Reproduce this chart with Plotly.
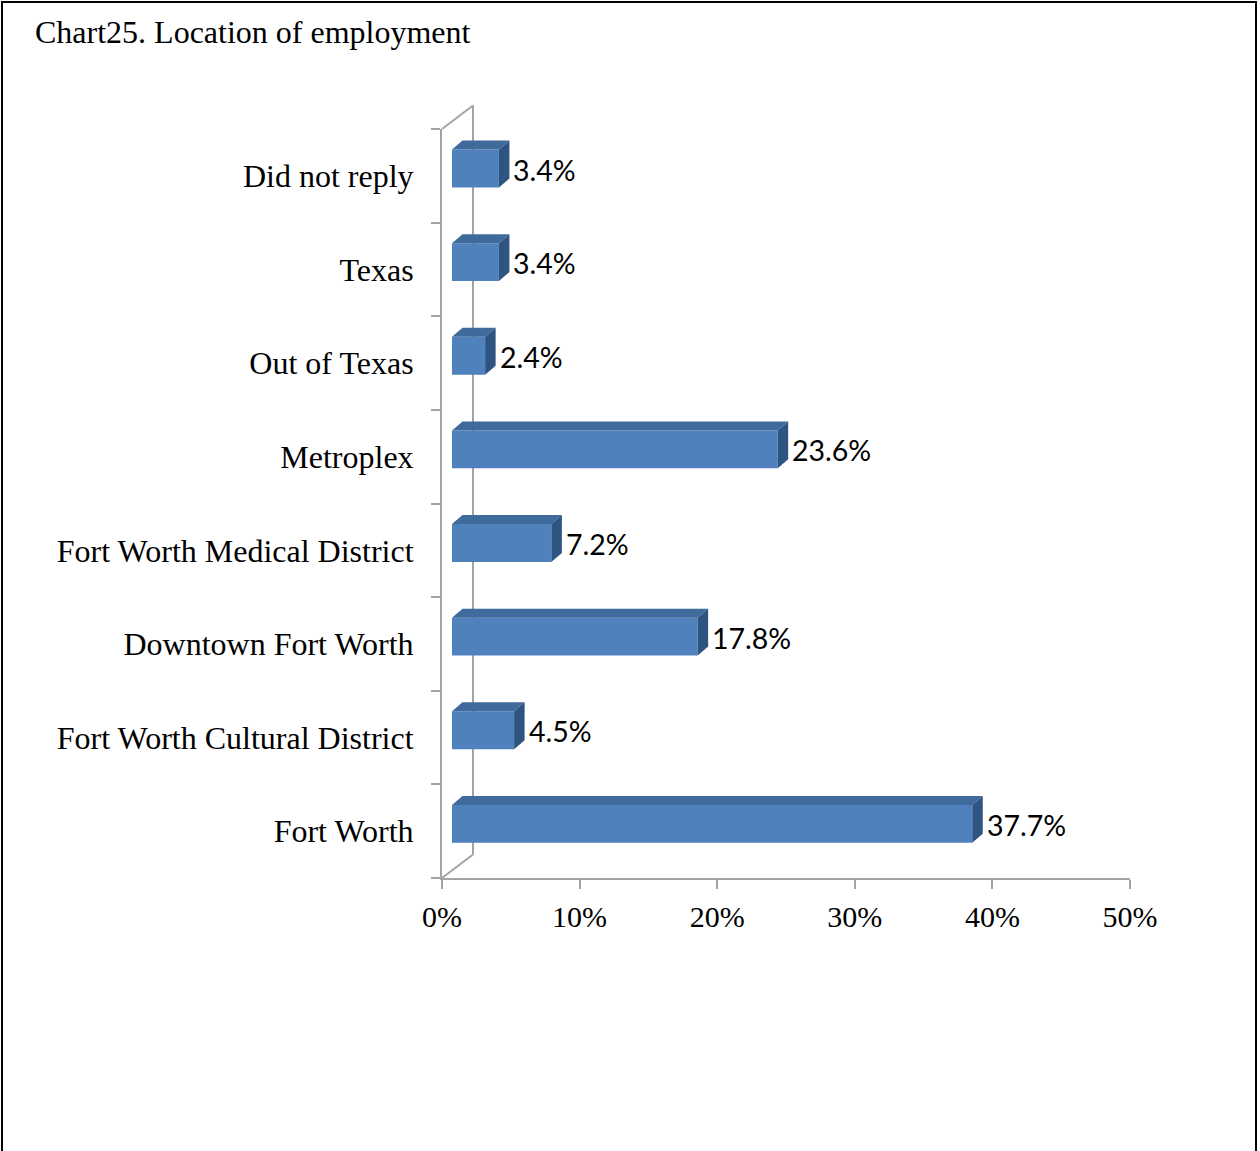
import plotly.graph_objects as go

# ---- data (bottom to top) ----
categories = ["Fort Worth", "Fort Worth Cultural District", "Downtown Fort Worth",
              "Fort Worth Medical District", "Metroplex", "Out of Texas", "Texas",
              "Did not reply"]
values = [37.7, 4.5, 17.8, 7.2, 23.6, 2.4, 3.4, 3.4]
x_ticks = [0, 10, 20, 30, 40, 50]
x_tick_labels = ["0%", "10%", "20%", "30%", "40%", "50%"]
title_text = "Chart25. Location of employment"

# ---- layout geometry ----
W, H = 1260, 1151
L, R, T, B = 442, 130, 129, 273
pw, ph = W - L - R, H - T - B
ncat = len(categories)
px_per_cat = ph / ncat

# bar axis offsets (3D projection of bars sits slightly behind the front plane)
bar_x_shift_px = 10.0
bar_scale = 13.8
x2_range = [-bar_x_shift_px / bar_scale, (pw - bar_x_shift_px) / bar_scale]
bar_y_shift = 7.3 / px_per_cat
y2_range = [-0.5 - bar_y_shift, ncat - 0.5 - bar_y_shift]
bar_w = 0.405
dx = 10.5 / bar_scale          # depth offset in x2 units
dy = 9.0 / px_per_cat          # depth offset in y units

FRONT = "#4F81BD"
TOP = "#3F6A9C"
SIDE = "#2E5482"
GRID = "#A3A3A3"

fig = go.Figure()
# invisible trace on the front-plane axes so the labelled axes are drawn
fig.add_trace(go.Scatter(
    x=[0, 50], y=[-0.5, ncat - 0.5], mode="markers", marker=dict(opacity=0),
    xaxis="x", yaxis="y", hoverinfo="skip", showlegend=False,
))
fig.add_trace(go.Bar(
    x=values, y=list(range(ncat)), orientation="h", width=bar_w,
    marker=dict(color=FRONT, line=dict(width=0)),
    xaxis="x2", yaxis="y2", hoverinfo="x+y", showlegend=False,
))

shapes = []
annotations = []

# back wall / floor (3D frame) in paper units so the part above the plot area is not clipped
wall_dx = 31 / pw
wall_dy = 23.5 / ph
shapes += [
    dict(type="line", xref="paper", yref="paper", x0=0, y0=1, x1=wall_dx, y1=1 + wall_dy,
         line=dict(color=GRID, width=2), layer="below"),
    dict(type="line", xref="paper", yref="paper", x0=wall_dx, y0=1 + wall_dy, x1=wall_dx, y1=wall_dy,
         line=dict(color=GRID, width=2), layer="below"),
    dict(type="line", xref="paper", yref="paper", x0=0, y0=0, x1=wall_dx, y1=wall_dy,
         line=dict(color=GRID, width=2), layer="below"),
]

for i, v in enumerate(values):
    yt = i + bar_w / 2
    yb = i - bar_w / 2
    # top face
    shapes.append(dict(
        type="path", xref="x2", yref="y2",
        path=f"M 0,{yt} L {v},{yt} L {v + dx},{yt + dy} L {dx},{yt + dy} Z",
        fillcolor=TOP, line=dict(width=0), layer="above"))
    # side face
    shapes.append(dict(
        type="path", xref="x2", yref="y2",
        path=f"M {v},{yb} L {v},{yt} L {v + dx},{yt + dy} L {v + dx},{yb + dy} Z",
        fillcolor=SIDE, line=dict(width=0), layer="above"))
    annotations.append(dict(
        x=v + dx, y=i, xref="x2", yref="y2", text=f"{v:.1f}%",
        showarrow=False, xanchor="left", yanchor="middle", xshift=2, yshift=-1,
        font=dict(family="Lato, Open Sans, sans-serif", size=28.5, color="#000000")))

# title
annotations.append(dict(
    x=(33 - L) / pw, y=(H - B - 32) / ph, xref="paper", yref="paper",
    text=title_text, showarrow=False, xanchor="left", yanchor="middle",
    font=dict(family="Liberation Serif, Times New Roman, serif", size=32, color="#000000")))

# outer border (bottom edge falls outside the page, as in the original crop)
shapes.append(dict(
    type="rect", xref="paper", yref="paper",
    x0=(2 - L) / pw, x1=(1256 - L) / pw,
    y0=-(B + 30) / ph, y1=(H - B - 2) / ph,
    line=dict(color="#000000", width=2), fillcolor="rgba(0,0,0,0)", layer="below"))

serif_cat = dict(family="Liberation Serif, Times New Roman, serif", size=32, color="#000000")
serif_tick = dict(family="Liberation Serif, Times New Roman, serif", size=30, color="#000000")

fig.update_layout(
    width=W, height=H,
    margin=dict(l=L, r=R, t=T, b=B, pad=0),
    paper_bgcolor="white", plot_bgcolor="white",
    showlegend=False,
    font=serif_cat,
    xaxis=dict(
        range=[0, 50], tickvals=x_ticks, ticktext=x_tick_labels,
        showgrid=False, zeroline=False,
        showline=True, linecolor=GRID, linewidth=2,
        ticks="outside", ticklen=9, tickwidth=2, tickcolor=GRID,
        tickfont=serif_tick, ticklabelstandoff=2, fixedrange=True,
    ),
    yaxis=dict(
        range=[-0.5, ncat - 0.5], tickvals=list(range(ncat)), ticktext=categories,
        showgrid=False, zeroline=False,
        showline=True, linecolor=GRID, linewidth=2,
        ticks="", tickfont=serif_cat, ticklabelstandoff=20,
        minor=dict(tickvals=[k - 0.5 for k in range(ncat + 1)], ticks="outside",
                   ticklen=9, tickwidth=2, tickcolor=GRID),
        fixedrange=True,
    ),
    xaxis2=dict(range=x2_range, overlaying="x", visible=False, fixedrange=True),
    yaxis2=dict(range=y2_range, overlaying="y", visible=False, fixedrange=True),
    shapes=shapes,
    annotations=annotations,
)

fig.write_html("out.html", config={"displayModeBar": False},
               post_script="document.body.style.margin='0';")
